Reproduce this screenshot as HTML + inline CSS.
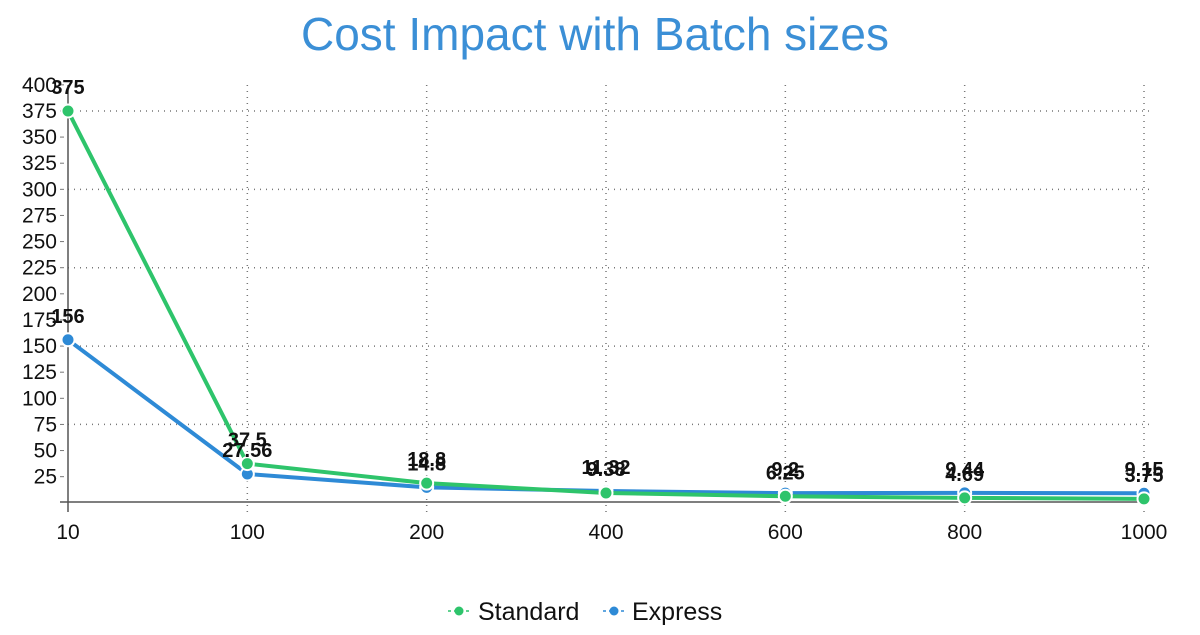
<!DOCTYPE html>
<html><head><meta charset="utf-8"><style>
body{margin:0;background:#fff;width:1200px;height:630px;overflow:hidden;font-family:"Liberation Sans",sans-serif}
</style></head><body>
<svg id="chart" width="1200" height="630" xmlns="http://www.w3.org/2000/svg" font-family="Liberation Sans, sans-serif">
<text x="595" y="50" text-anchor="middle" font-size="46" fill="#3b8fd6">Cost Impact with Batch sizes</text>
<g id="grid"></g><g id="axes"></g><g id="series"></g><g id="labels"></g>
<g>
<g>
<line x1="448" y1="611" x2="470" y2="611" stroke="#2ec46b" stroke-width="1.5" stroke-dasharray="3,3"/>
<circle cx="459" cy="611" r="4.5" fill="#2ec46b"/>
<text x="478" y="620" font-size="25" fill="#111">Standard</text></g>
<g>
<line x1="603" y1="611" x2="625" y2="611" stroke="#2e8ad6" stroke-width="1.5" stroke-dasharray="3,3"/>
<circle cx="614" cy="611" r="4.5" fill="#2e8ad6"/>
<text x="632" y="620" font-size="25" fill="#111">Express</text></g>
</g>
</svg>
<script>
const categories=["10","100","200","400","600","800","1000"];
const standard=[375,37.5,18.8,9.38,6.25,4.69,3.75];
const express=[156,27.56,14.8,11.32,9.2,9.44,9.15];
const yTicks=[25,50,75,100,125,150,175,200,225,250,275,300,325,350,375,400];
const gridVals=[75,150,225,300,375];
const NS="http://www.w3.org/2000/svg";
const x0=68,x1=1144,y0=502.8,ppu=1.0449;
const xs=i=>x0+i*(x1-x0)/(categories.length-1);
const ys=v=>y0-v*ppu;
function mk(p,t,a){const e=document.createElementNS(NS,t);for(const k in a)e.setAttribute(k,a[k]);p.appendChild(e);return e;}
const grid=document.getElementById('grid'),axes=document.getElementById('axes'),ser=document.getElementById('series'),lab=document.getElementById('labels');
gridVals.forEach(v=>{const l=mk(grid,'line',{x1:x0,x2:1150,y1:ys(v),y2:ys(v),stroke:'#777','stroke-dasharray':'1,5','stroke-width':1.5});

});
categories.forEach((c,i)=>{if(i>0){const l=mk(grid,'line',{x1:xs(i),x2:xs(i),y1:85,y2:512,stroke:'#777','stroke-dasharray':'1,5','stroke-width':1.5});

}
const t=mk(axes,'text',{x:xs(i),y:539,'text-anchor':'middle','font-size':21,fill:'#111'});t.textContent=c;

});
const ya=mk(axes,'line',{x1:x0,x2:x0,y1:85,y2:512,stroke:'#555','stroke-width':1.5});


const xa=mk(axes,'line',{x1:60,x2:1150,y1:502,y2:502,stroke:'#555','stroke-width':1.5});


yTicks.forEach(v=>{mk(axes,'line',{x1:60,x2:64,y1:ys(v),y2:ys(v),stroke:'#777','stroke-width':1});
const t=mk(axes,'text',{x:57,y:ys(v)+7,'text-anchor':'end','font-size':21,fill:'#111'});t.textContent=v;

});
function draw(data,color,name){
const pl=mk(ser,'polyline',{points:data.map((v,i)=>xs(i)+','+ys(v)).join(' '),fill:'none',stroke:color,'stroke-width':4,'stroke-linejoin':'round'});


data.forEach((v,i)=>{const c=mk(ser,'circle',{cx:xs(i),cy:ys(v),r:6.5,fill:color,stroke:'#fff','stroke-width':2});


const t=mk(lab,'text',{x:xs(i),y:ys(v)-17,'text-anchor':'middle','font-size':20,'font-weight':'bold',fill:'#111'});t.textContent=v;

});}
draw(express,'#2e8ad6','express');
draw(standard,'#2ec46b','standard');
</script>
</body></html>
